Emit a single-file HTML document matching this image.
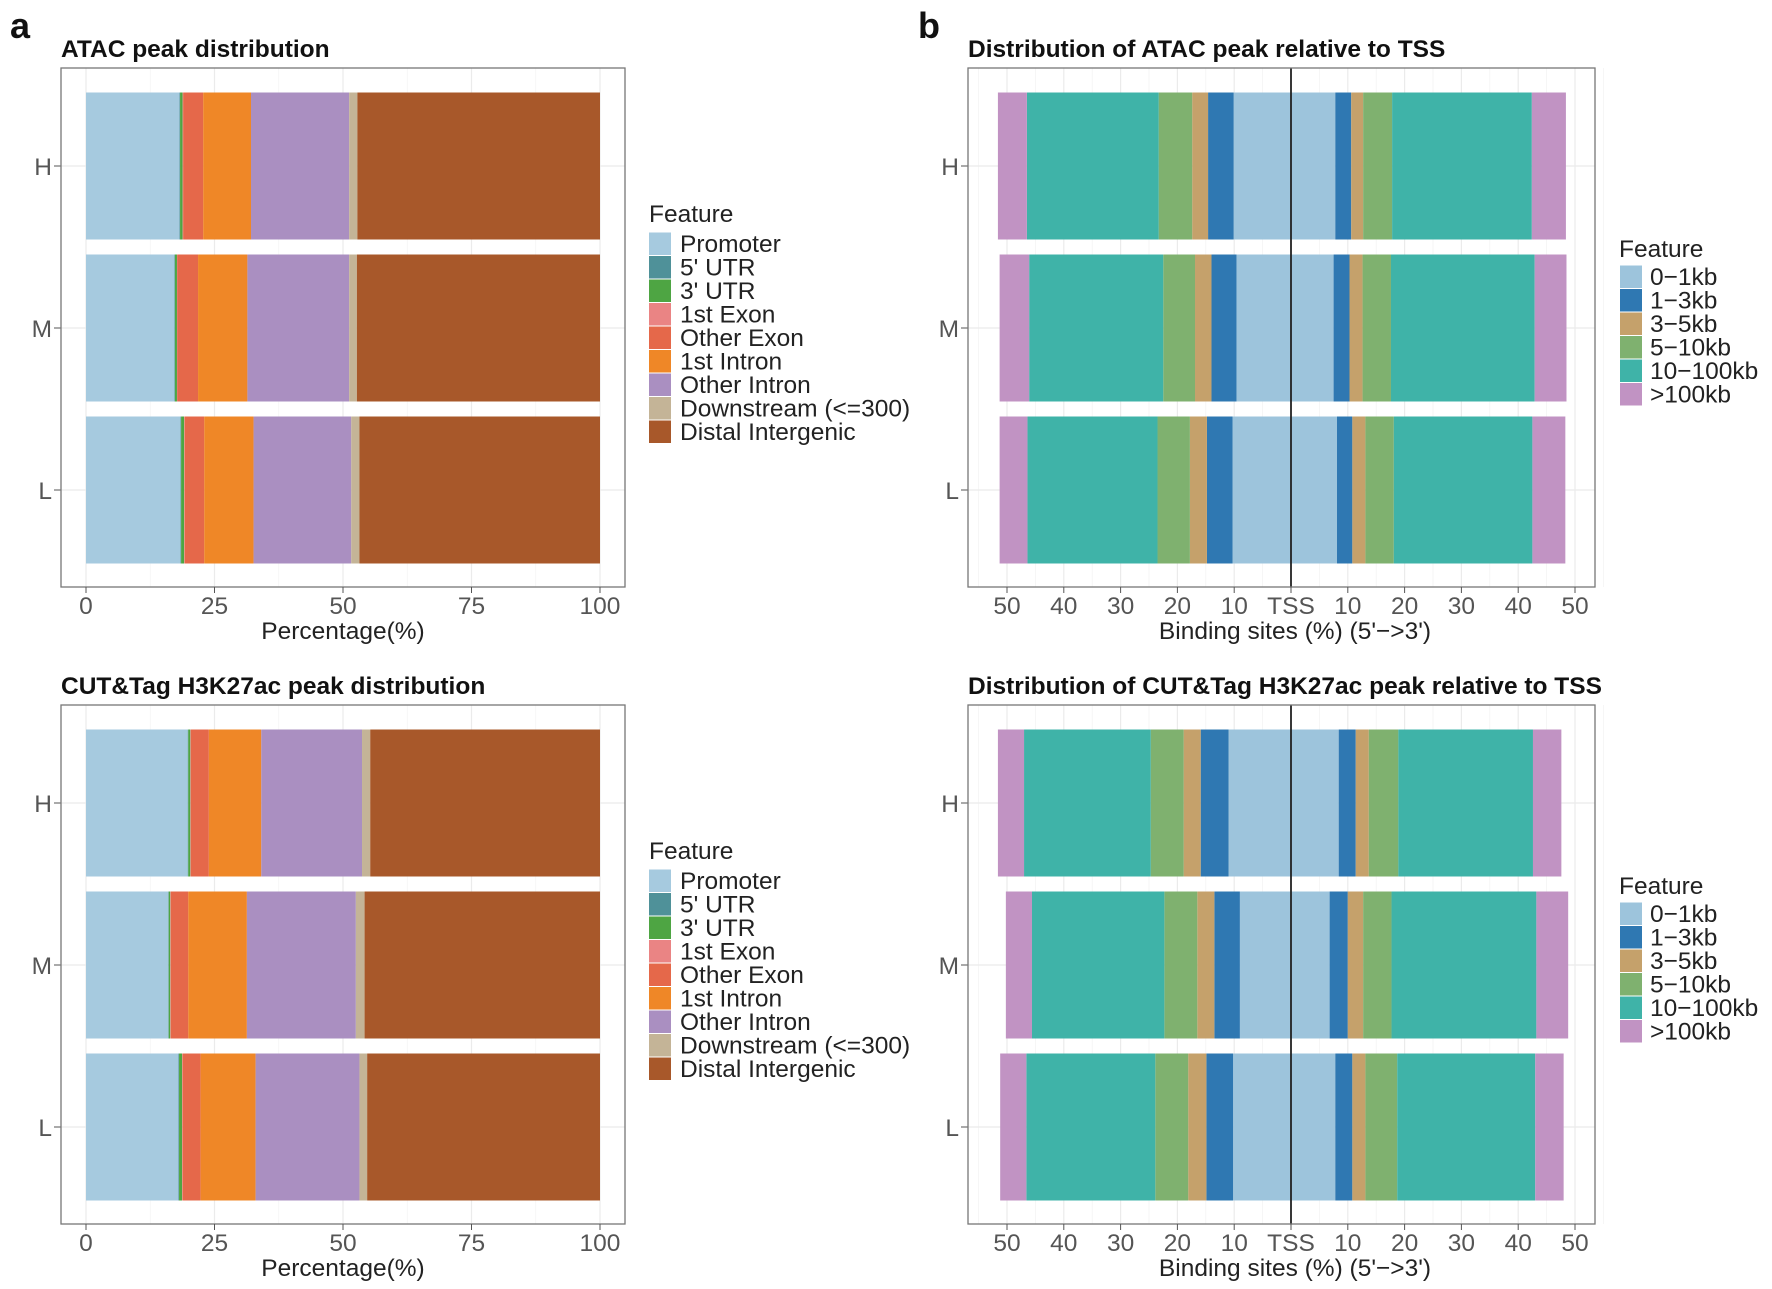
<!DOCTYPE html>
<html><head><meta charset="utf-8"><style>
html,body{margin:0;padding:0;background:#fff;}
svg{display:block;font-family:"Liberation Sans",Arial,sans-serif;}
</style></head><body>
<svg id="fig" width="1772" height="1289" viewBox="0 0 1772 1289" xmlns="http://www.w3.org/2000/svg"></svg>
<script>
// ---- Panel a data (percentages, cumulative segments) ----
const annoCats = ["H","M","L"];
const annoFeatures = ["Promoter","5' UTR","3' UTR","1st Exon","Other Exon","1st Intron","Other Intron","Downstream (<=300)","Distal Intergenic"];
const annoColors = ["#a6cadf","#4f9199","#4ea543","#ea8484","#e5684a","#ef8727","#aa8fc1","#c4b497","#a8582a"];
const atacPromoter = [18.2,17.2,18.4];
const atac5UTR = [0.1,0.1,0.1];
const atac3UTR = [0.5,0.4,0.6];
const atac1stExon = [0.1,0.1,0.1];
const atacOtherExon = [3.9,4.0,3.8];
const atac1stIntron = [9.3,9.6,9.6];
const atacOtherIntron = [19.1,19.8,19.0];
const atacDownstream = [1.6,1.5,1.6];
const atacDistal = [47.2,47.3,46.8];
const cutPromoter = [19.8,16.0,18.0];
const cut5UTR = [0.1,0.1,0.1];
const cut3UTR = [0.4,0.3,0.6];
const cut1stExon = [0.1,0.1,0.1];
const cutOtherExon = [3.5,3.4,3.5];
const cut1stIntron = [10.2,11.4,10.7];
const cutOtherIntron = [19.6,21.2,20.2];
const cutDownstream = [1.6,1.7,1.5];
const cutDistal = [44.7,45.8,45.3];
const annoTicks = [0,25,50,75,100];

// ---- Panel b data (percent of binding sites, upstream left / downstream right) ----
const tssFeatures = ["0\u22121kb","1\u22123kb","3\u22125kb","5\u221210kb","10\u2212100kb",">100kb"];
const tssColors = ["#9dc4dc","#2f78b2","#c5a16b","#7fb16f","#3fb3a8","#c193c3"];
const atacUp0_1 = [10.1,9.6,10.3];
const atacUp1_3 = [4.5,4.4,4.5];
const atacUp3_5 = [2.8,2.9,3.0];
const atacUp5_10 = [5.9,5.6,5.7];
const atacUp10_100 = [23.2,23.6,22.9];
const atacUp100 = [5.1,5.2,4.9];
const atacDn0_1 = [7.8,7.5,8.1];
const atacDn1_3 = [2.8,2.8,2.7];
const atacDn3_5 = [2.1,2.3,2.3];
const atacDn5_10 = [5.1,5.0,5.0];
const atacDn10_100 = [24.6,25.3,24.4];
const atacDn100 = [6.0,5.6,5.8];
const cutUp0_1 = [11.0,9.0,10.2];
const cutUp1_3 = [4.9,4.5,4.7];
const cutUp3_5 = [3.0,3.0,3.2];
const cutUp5_10 = [5.8,5.8,5.8];
const cutUp10_100 = [22.3,23.3,22.7];
const cutUp100 = [4.6,4.6,4.6];
const cutDn0_1 = [8.4,6.8,7.8];
const cutDn1_3 = [3.0,3.2,3.0];
const cutDn3_5 = [2.3,2.7,2.3];
const cutDn5_10 = [5.2,5.0,5.6];
const cutDn10_100 = [23.7,25.5,24.3];
const cutDn100 = [5.0,5.6,5.0];
const tssTicks = [-50,-40,-30,-20,-10,0,10,20,30,40,50];

const NS = "http://www.w3.org/2000/svg";
const svg = document.getElementById("fig");
const FS = 24.5;
function mk(tag, attrs, parent){
  const e = document.createElementNS(NS, tag);
  for (const k in attrs) e.setAttribute(k, attrs[k]);
  (parent||svg).appendChild(e);
  return e;
}
function txt(str, attrs, parent){ const t = mk("text", attrs, parent); t.textContent = str; return t; }

let t;
t = txt("a",{x:10,y:38,"font-size":36,"font-weight":"bold",fill:"#111"});


t = txt("b",{x:918,y:38,"font-size":36,"font-weight":"bold",fill:"#111"});



function drawAnno(dy, title, series, namePrefix){
  const g = mk("g",{});
  
  
  const L=61,R=625,T=68+dy,B=587+dy;
  const x = v => 86 + (600-86)*v/100;
  const yc = i => 166 + dy + i*162;
  const bh = 147;
  const tt = txt(title,{x:61,y:57+dy,"font-size":24.5,"font-weight":"bold",fill:"#111"},g);
  
  
  for (let v=0; v<=100; v+=12.5){
    const ln = mk("line",{x1:x(v),x2:x(v),y1:T,y2:B,stroke: (v%25===0)?"#ebebeb":"#f4f4f4","stroke-width":(v%25===0)?1.2:0.8},g);
    
    
  }
  annoCats.forEach((c,i)=>{
    const ln = mk("line",{x1:L,x2:R,y1:yc(i),y2:yc(i),stroke:"#ebebeb","stroke-width":1.2},g);
    
    
  });
  annoCats.forEach((c,i)=>{
    let cum = 0;
    series.forEach((s,k)=>{
      const v = s[i];
      const r = mk("rect",{x:x(cum),y:yc(i)-bh/2,width:Math.max(0,x(cum+v)-x(cum)),height:bh,fill:annoColors[k]},g);
      
      
      cum += v;
    });
    const lab = txt(c,{x:52,y:yc(i)+9,"font-size":FS,fill:"#555","text-anchor":"end"},g);
    
    
    const tk = mk("line",{x1:54,x2:61,y1:yc(i),y2:yc(i),stroke:"#555","stroke-width":1},g);
    
    
  });
  const box = mk("rect",{x:L,y:T,width:R-L,height:B-T,fill:"none",stroke:"#777","stroke-width":1.3},g);
  
  
  annoTicks.forEach(v=>{
    const tk = mk("line",{x1:x(v),x2:x(v),y1:B,y2:B+6,stroke:"#555","stroke-width":1},g);
    
    
    const l = txt(String(v),{x:x(v),y:B+27,"font-size":FS,fill:"#555","text-anchor":"middle"},g);
    
    
  });
  const xt = txt("Percentage(%)",{x:343,y:B+52,"font-size":FS,fill:"#222","text-anchor":"middle"},g);
  
  
  const lg = mk("g",{},g);
  
  
  const lt = txt("Feature",{x:649,y:222+dy,"font-size":FS,fill:"#222"},lg);
  
  
  annoFeatures.forEach((f,k)=>{
    const y0 = 232+dy+k*23.5;
    const r = mk("rect",{x:649,y:y0+0.5,width:22,height:22.5,fill:annoColors[k]},lg);
    
    
    const l = txt(f,{x:680,y:y0+20,"font-size":FS,fill:"#222"},lg);
    
    
  });
}
drawAnno(0,"ATAC peak distribution",[atacPromoter,atac5UTR,atac3UTR,atac1stExon,atacOtherExon,atac1stIntron,atacOtherIntron,atacDownstream,atacDistal],"atac-anno");
drawAnno(637,"CUT&Tag H3K27ac peak distribution",[cutPromoter,cut5UTR,cut3UTR,cut1stExon,cutOtherExon,cut1stIntron,cutOtherIntron,cutDownstream,cutDistal],"cut-anno");

function drawTss(dy, title, up, dn, namePrefix){
  const g = mk("g",{});
  
  
  const L=968,R=1595,T=68+dy,B=587+dy;
  const x = v => 1291 + v*5.68;
  const yc = i => 166 + dy + i*162;
  const bh = 147;
  const tt = txt(title,{x:968,y:57+dy,"font-size":24.5,"font-weight":"bold",fill:"#111"},g);
  
  
  for (let v=-55; v<=55; v+=5){
    const ln = mk("line",{x1:x(v),x2:x(v),y1:T,y2:B,stroke:(v%10===0)?"#ebebeb":"#f4f4f4","stroke-width":(v%10===0)?1.2:0.8},g);
    
    
  }
  annoCats.forEach((c,i)=>{
    const ln = mk("line",{x1:L,x2:R,y1:yc(i),y2:yc(i),stroke:"#ebebeb","stroke-width":1.2},g);
    
    
  });
  annoCats.forEach((c,i)=>{
    let cum = 0;
    up.forEach((s,k)=>{
      const v = s[i];
      const r = mk("rect",{x:x(-(cum+v)),y:yc(i)-bh/2,width:x(-cum)-x(-(cum+v)),height:bh,fill:tssColors[k]},g);
      
      
      cum += v;
    });
    cum = 0;
    dn.forEach((s,k)=>{
      const v = s[i];
      const r = mk("rect",{x:x(cum),y:yc(i)-bh/2,width:x(cum+v)-x(cum),height:bh,fill:tssColors[k]},g);
      
      
      cum += v;
    });
    const lab = txt(c,{x:959,y:yc(i)+9,"font-size":FS,fill:"#555","text-anchor":"end"},g);
    
    
    const tk = mk("line",{x1:961,x2:968,y1:yc(i),y2:yc(i),stroke:"#555","stroke-width":1},g);
    
    
  });
  const tl = mk("line",{x1:x(0),x2:x(0),y1:T,y2:B,stroke:"#222","stroke-width":1.8},g);
  
  
  const box = mk("rect",{x:L,y:T,width:R-L,height:B-T,fill:"none",stroke:"#777","stroke-width":1.3},g);
  
  
  tssTicks.forEach(v=>{
    const tk = mk("line",{x1:x(v),x2:x(v),y1:B,y2:B+6,stroke:"#555","stroke-width":1},g);
    
    
    const l = txt(v===0?"TSS":String(Math.abs(v)),{x:x(v),y:B+27,"font-size":FS,fill:"#555","text-anchor":"middle"},g);
    
    
  });
  const xt = txt("Binding sites (%) (5'\u2212>3')",{x:1295,y:B+52,"font-size":FS,fill:"#222","text-anchor":"middle"},g);
  
  
  const lg = mk("g",{},g);
  
  
  const lt = txt("Feature",{x:1619,y:257+dy,"font-size":FS,fill:"#222"},lg);
  
  
  tssFeatures.forEach((f,k)=>{
    const y0 = 265+dy+k*23.5;
    const r = mk("rect",{x:1620,y:y0+0.5,width:22,height:22.5,fill:tssColors[k]},lg);
    
    
    const l = txt(f,{x:1650,y:y0+20,"font-size":FS,fill:"#222"},lg);
    
    
  });
}
drawTss(0,"Distribution of ATAC peak relative to TSS",
  [atacUp0_1,atacUp1_3,atacUp3_5,atacUp5_10,atacUp10_100,atacUp100],
  [atacDn0_1,atacDn1_3,atacDn3_5,atacDn5_10,atacDn10_100,atacDn100],"atac-tss");
drawTss(637,"Distribution of CUT&Tag H3K27ac peak relative to TSS",
  [cutUp0_1,cutUp1_3,cutUp3_5,cutUp5_10,cutUp10_100,cutUp100],
  [cutDn0_1,cutDn1_3,cutDn3_5,cutDn5_10,cutDn10_100,cutDn100],"cut-tss");
</script>
</body></html>
